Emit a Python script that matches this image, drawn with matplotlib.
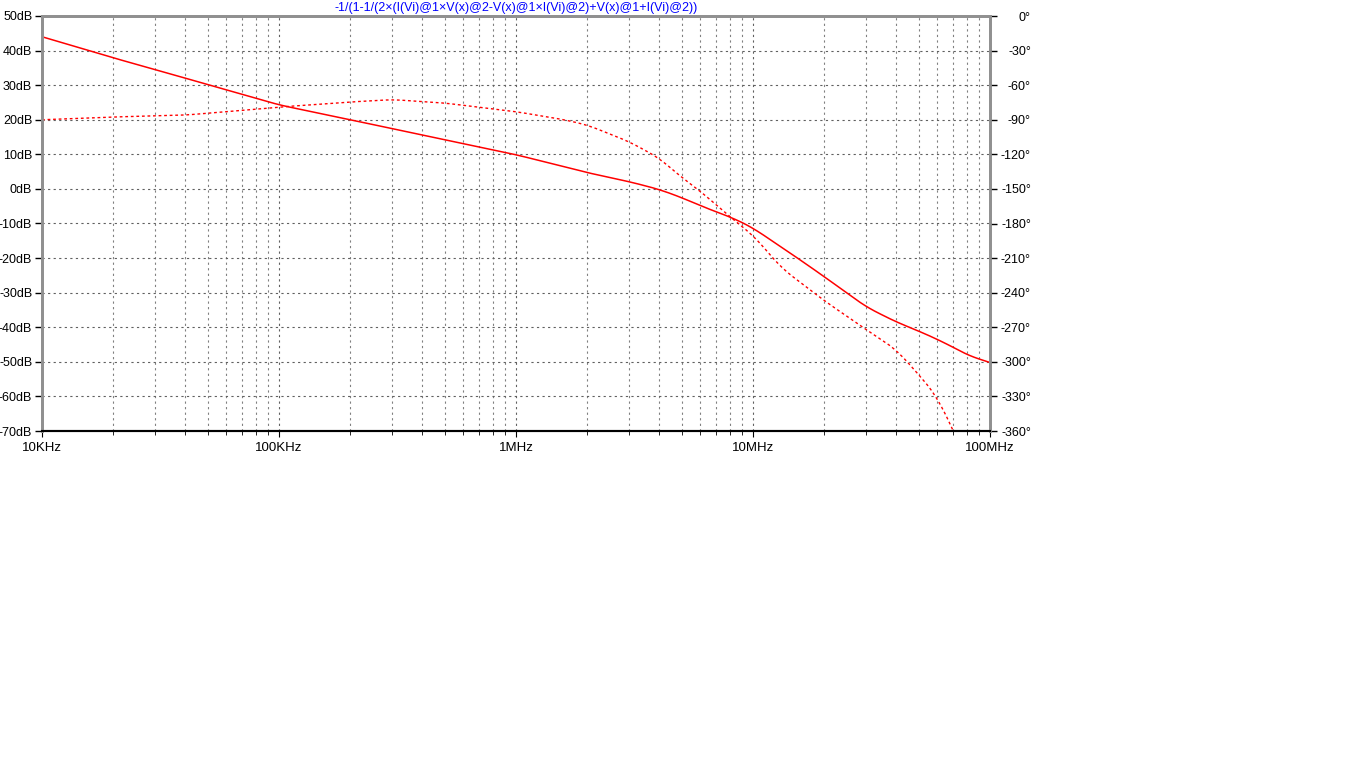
import numpy as np
import matplotlib
matplotlib.use("Agg")
import matplotlib.pyplot as plt
from matplotlib.ticker import FixedLocator, NullFormatter

plt.rcParams['font.family'] = ['Liberation Sans', 'DejaVu Sans']

# magnitude trace (solid), dB
mag_f = [1e4, 2e4, 5e4, 1e5, 2e5, 5e5, 1e6, 2e6, 3e6, 4e6, 5e6, 6e6,
         7e6, 8e6, 9e6, 1e7, 1.58e7, 2e7, 3e7, 4e7, 5e7, 6e7, 7e7, 8e7, 9e7, 1e8]
mag_db = [44, 37.9, 30.2, 24.3, 20, 14.2, 9.9, 4.7, 2.1, -0.1, -2.5, -4.9,
          -6.6, -8.1, -9.7, -11.3, -20.5, -25.4, -34.1, -38.4, -41.1, -43.5,
          -45.8, -48.0, -49.2, -50.2]

# phase trace (dashed), degrees
ph_f = [1e4, 2e4, 4e4, 6e4, 1e5, 2e5, 3e5, 5e5, 1e6, 1.6e6, 2e6, 3e6, 4e6,
        5e6, 6e6, 7e6, 8e6, 9e6, 1e7, 1.32e7, 2e7, 3e7, 4e7, 5e7, 6e7, 7e7]
ph_deg = [-90, -87.6, -86, -83, -79, -74.6, -72.5, -75.5, -83, -90, -94.6,
          -109, -123, -140, -152, -164, -174, -183, -190, -218.7, -247, -272,
          -289, -311, -330.5, -360]

db_ticks = list(range(-70, 51, 10))
deg_ticks = list(range(-360, 1, 30))
freq_ticks = [1e4, 1e5, 1e6, 1e7, 1e8]
freq_labels = ["10KHz", "100KHz", "1MHz", "10MHz", "100MHz"]

title = "-1/(1-1/(2\u00d7(I(Vi)@1\u00d7V(x)@2-V(x)@1\u00d7I(Vi)@2)+V(x)@1+I(Vi)@2))"

fig = plt.figure(figsize=(13.66, 7.68), dpi=100)
ax = fig.add_axes([42 / 1366, 1 - 431 / 768, 948 / 1366, 415 / 768])
ax2 = ax.twinx()


def smooth(fx, fy, n=600, k=15):
    # interpolate in log-frequency, then round off the corners
    lx = np.log10(fx)
    xs = np.linspace(lx[0], lx[-1], n)
    ys = np.interp(xs, lx, fy)
    pad = np.pad(ys, k // 2, mode="reflect", reflect_type="odd")
    ys = np.convolve(pad, np.ones(k) / k, mode="valid")
    return 10 ** xs, ys


mx, my = smooth(mag_f, mag_db)
px, py = smooth(ph_f, ph_deg)
ax.plot(mx, my, color="red", lw=1.1)
ax2.plot(px, py, color="red", lw=1.0, ls=(0, (2, 2)))

ax.set_xscale("log")
ax.set_xlim(1e4, 1e8)
ax.set_ylim(-70, 50)
ax2.set_ylim(-360, 0)

ax.set_xticks(freq_ticks)
ax.set_xticklabels(freq_labels)
minors = [m * 10 ** e for e in range(4, 8) for m in range(2, 10)]
ax.xaxis.set_minor_locator(FixedLocator(minors))
ax.xaxis.set_minor_formatter(NullFormatter())
ax.set_yticks(db_ticks)
ax.set_yticklabels([f"{v}dB" for v in db_ticks])
ax2.set_yticks(deg_ticks)
ax2.set_yticklabels([f"{v}\u00b0" for v in deg_ticks])

ax.grid(True, which="major", axis="both", color="#606060", ls=(0, (2, 3)), lw=0.8)
ax.grid(True, which="minor", axis="x", color="#808080", ls=(0, (2, 3)), lw=0.8)

for a in (ax, ax2):
    a.tick_params(axis="y", direction="out", length=5, width=1, labelsize=9, pad=2)
    a.tick_params(axis="x", direction="out", length=4, labelsize=9.5, pad=4)
    a.tick_params(axis="x", which="minor", length=3)
    for s in ("top", "left", "right"):
        a.spines[s].set_color("#909090")
        a.spines[s].set_linewidth(2)
    a.spines["bottom"].set_color("black")
    a.spines["bottom"].set_linewidth(1.5)

ax2.tick_params(axis="y", pad=24.5)
for lab in ax2.get_yticklabels():
    lab.set_horizontalalignment("right")

fig.text(516 / 1366, 1 - 8 / 768, title, color="blue", fontsize=9,
         ha="center", va="center")

fig.savefig("out.png", dpi=100)
